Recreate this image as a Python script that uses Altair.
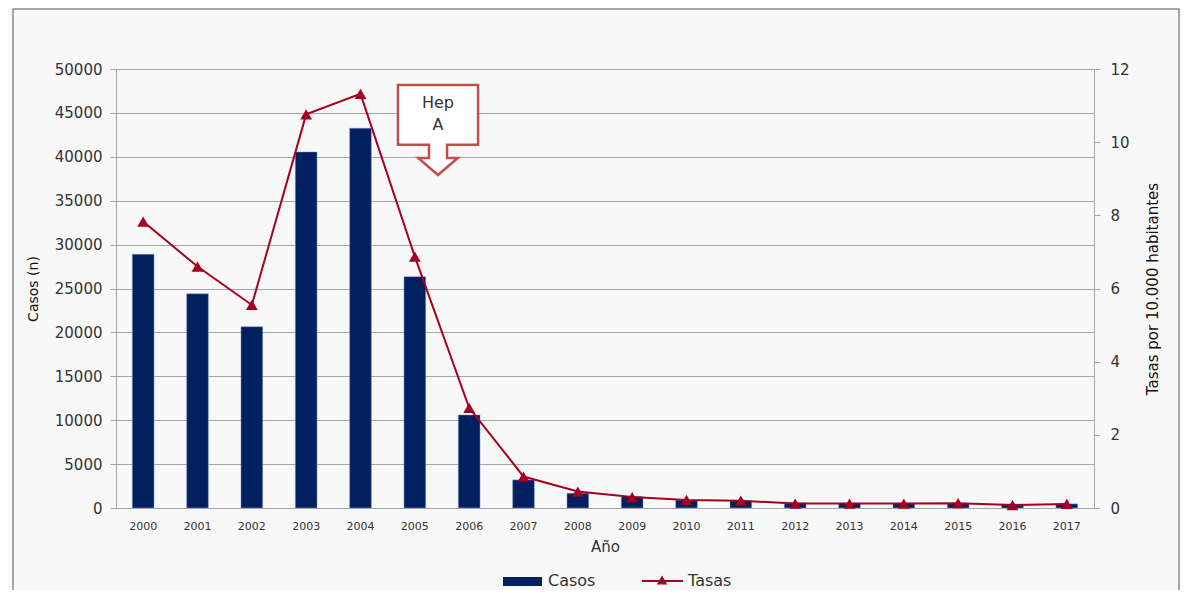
import altair as alt
import pandas as pd

# ---- data ----
years = [str(y) for y in range(2000, 2018)]
casos = [28900, 24400, 20650, 40550, 43250, 26350, 10600, 3200, 1680, 1300,
         900, 820, 580, 560, 520, 520, 430, 470]
tasas = [7.83, 6.60, 5.55, 10.76, 11.32, 6.87, 2.74, 0.86, 0.45, 0.30,
         0.22, 0.20, 0.12, 0.12, 0.12, 0.13, 0.08, 0.11]
left_ticks = list(range(0, 50001, 5000))
right_ticks = list(range(0, 13, 2))
legend_labels = ["Casos", "Tasas"]
callout_lines = ["Hep", "A"]

df = pd.DataFrame({"Año": years, "Casos": casos, "Tasas": tasas})
one = pd.DataFrame({"k": [0]})

NAVY = "#002060"
RED = "#a50021"
GRID = "#a6a6a6"
TXT = "#333333"
FONT = "DejaVu Sans"
W, H = 978, 439

xenc = alt.X(
    "Año:O",
    scale=alt.Scale(paddingInner=0.6, paddingOuter=0.3),
    axis=alt.Axis(
        title="Año", labelAngle=0, ticks=False, labelPadding=12,
        labelFontSize=11, labelFont=FONT, labelColor=TXT,
        titleFontSize=15, titleFont=FONT, titleColor=TXT, titleFontWeight="normal",
        titlePadding=8, domainColor=GRID, grid=False,
    ),
)

bars = alt.Chart(df).mark_bar(color=NAVY, stroke="#8ea0c8", strokeWidth=0.5).encode(
    x=xenc,
    y=alt.Y(
        "Casos:Q",
        scale=alt.Scale(domain=[0, 50000], nice=False),
        axis=alt.Axis(
            title="Casos (n)", values=left_ticks, format="d", grid=True,
            gridColor=GRID, gridWidth=1, tickSize=6, tickColor=GRID,
            domainColor=GRID, labelFontSize=15, labelFont=FONT, labelColor=TXT,
            labelPadding=8, titleFontSize=14, titleFont=FONT, titleColor="#111111",
            titleFontWeight="normal", titlePadding=14,
        ),
    ),
)

line = alt.Chart(df).mark_line(
    color=RED, strokeWidth=2,
    point=alt.OverlayMarkDef(shape="triangle-up", size=140, filled=True, color=RED, opacity=1),
).encode(
    x=alt.X("Año:O"),
    y=alt.Y(
        "Tasas:Q",
        scale=alt.Scale(domain=[0, 12], nice=False),
        axis=alt.Axis(
            title="Tasas por 10.000 habitantes", orient="right", values=right_ticks,
            grid=False, tickSize=6, tickColor=GRID, domainColor=GRID,
            labelFontSize=15, labelFont=FONT, labelColor=TXT, labelPadding=10,
            titleFontSize=15, titleFont=FONT, titleColor="#111111",
            titleFontWeight="normal", titlePadding=31, titleAngle=270,
        ),
    ),
)

# ---- callout "Hep A" (down arrow box) ----
callout_path = ("M -0.89 -1 L 0.89 -1 L 0.89 0.33 L 0.2 0.33 L 0.2 0.62 L 0.44 0.62 "
                "L 0 1 L -0.44 0.62 L -0.2 0.62 L -0.2 0.33 L -0.89 0.33 Z")
callout = alt.Chart(one).mark_point(
    shape=callout_path, size=8100, filled=True, fill="white", fillOpacity=1,
    stroke="#c0504d", strokeWidth=2.5, opacity=1,
).encode(x=alt.value(322), y=alt.value(61))

callout_t1 = alt.Chart(one).mark_text(font=FONT, fontSize=16, color=TXT).encode(
    x=alt.value(322), y=alt.value(34), text=alt.value(callout_lines[0]))
callout_t2 = alt.Chart(one).mark_text(font=FONT, fontSize=16, color=TXT).encode(
    x=alt.value(322), y=alt.value(56), text=alt.value(callout_lines[1]))

# ---- legend ----
leg_rect = alt.Chart(one).mark_rect(color=NAVY).encode(
    x=alt.value(387), x2=alt.value(426), y=alt.value(508), y2=alt.value(517))
leg_t1 = alt.Chart(one).mark_text(font=FONT, fontSize=16, color=TXT, align="left", baseline="middle").encode(
    x=alt.value(432), y=alt.value(512), text=alt.value(legend_labels[0]))
leg_line = alt.Chart(one).mark_rule(color=RED, strokeWidth=2).encode(
    x=alt.value(526), x2=alt.value(567), y=alt.value(512))
leg_tri = alt.Chart(one).mark_point(shape="triangle-up", size=110, filled=True, color=RED, opacity=1).encode(
    x=alt.value(546), y=alt.value(511))
leg_t2 = alt.Chart(one).mark_text(font=FONT, fontSize=16, color=TXT, align="left", baseline="middle").encode(
    x=alt.value(572), y=alt.value(512), text=alt.value(legend_labels[1]))

# ---- outer frame ----
frame = alt.Chart(one).mark_rect(fill="transparent", stroke="#8c8c8c", strokeWidth=1.5).encode(
    x=alt.value(-103), x2=alt.value(1063), y=alt.value(-60), y2=alt.value(560))

chart = (
    alt.layer(frame, bars, line, callout, callout_t1, callout_t2,
              leg_rect, leg_t1, leg_line, leg_tri, leg_t2)
    .resolve_scale(y="independent")
    .properties(
        width=W, height=H,
        padding={"left": 108, "top": 61, "right": 87, "bottom": 82},
        autosize=alt.AutoSizeParams(type="none"),
        background="#f8f8f8",
    )
    .configure_view(stroke=None)
)

chart.save("out.html", embed_options={"renderer": "svg", "actions": False})
